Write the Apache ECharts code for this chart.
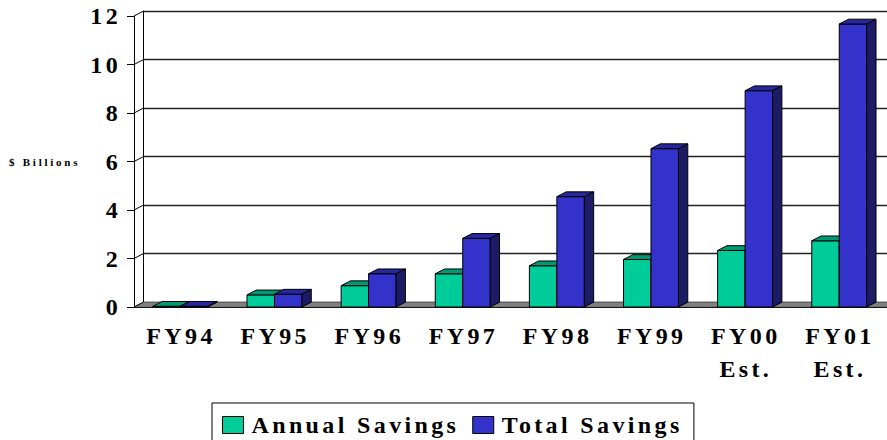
<!DOCTYPE html>
<html>
<head>
<meta charset="utf-8">
<script src="https://cdn.jsdelivr.net/npm/echarts@6/dist/echarts.min.js"></script>
<style>
  html, body { margin: 0; padding: 0; background: #fff; }
  #main { width: 887px; height: 440px; }
  /* the original text is set wide, letter by letter */
  #main text { letter-spacing: 0.14em; font-family: "Liberation Serif", "Times New Roman", serif !important; }
  #main text[style*="11px"] { letter-spacing: 0.25em; }
</style>
</head>
<body>
<div id="main"></div>
<script>
  var categories = ['FY94', 'FY95', 'FY96', 'FY97', 'FY98', 'FY99', 'FY00\nEst.', 'FY01\nEst.'];
  var annualSavings = [0.03, 0.5, 0.88, 1.37, 1.7, 1.96, 2.33, 2.73];
  var totalSavings = [0.03, 0.53, 1.37, 2.83, 4.55, 6.53, 8.92, 11.67];
  var yTicks = [0, 2, 4, 6, 8, 10, 12];

  var FONT = 'Liberation Serif';
  var DX = 9.3, DY = -4.8;   // depth of the 3d look
  var BAR_RATIO = 0.292;

  // 3d bar: front, top and side faces
  function barRender(shift, front, top, side) {
    return function (params, api) {
      var i = api.value(0);
      var c = api.coord([i, api.value(1)]);
      var b = api.coord([i, 0]);
      var w = api.size([1, 0])[0] * BAR_RATIO;
      var x0 = c[0] + shift * w - 0.7, x1 = x0 + w;
      var yt = c[1], yb = b[1];
      var line = { stroke: '#000', lineWidth: 1 };
      return {
        type: 'group',
        children: [
          { type: 'rect', shape: { x: x0, y: yt, width: w, height: yb - yt },
            style: Object.assign({ fill: front }, line) },
          { type: 'polygon', shape: { points: [[x0, yt], [x1, yt], [x1 + DX, yt + DY], [x0 + DX, yt + DY]] },
            style: Object.assign({ fill: top }, line) },
          { type: 'polygon', shape: { points: [[x1, yt], [x1 + DX, yt + DY], [x1 + DX, yb + DY], [x1, yb]] },
            style: Object.assign({ fill: side }, line) }
        ]
      };
    };
  }

  var chart = echarts.init(document.getElementById('main'), null, { renderer: 'svg' });

  var option = {
    backgroundColor: '#fff',
    animation: false,
    title: {
      text: '$ Billions',
      left: 9,
      top: 156,
      padding: 0,
      textStyle: { fontFamily: FONT, fontSize: 11, fontWeight: 'bold', color: '#000' }
    },
    legend: {
      data: ['Annual Savings', 'Total Savings'],
      left: 212,
      top: 403,
      orient: 'horizontal',
      padding: [10, 55, 10, 10],
      itemGap: 60,
      itemWidth: 21,
      itemHeight: 17,
      icon: 'rect',
      borderColor: '#000',
      borderWidth: 1,
      itemStyle: { borderColor: '#000', borderWidth: 1 },
      textStyle: { fontFamily: FONT, fontSize: 24, fontWeight: 'bold', color: '#000', padding: [0, 0, 0, 3] }
    },
    grid: [
      { left: 134, top: 16, width: 753, height: 291, outerBoundsMode: 'none' },
      { left: 143.3, top: 11.2, width: 753, height: 291, outerBoundsMode: 'none' }
    ],
    xAxis: [
      {
        type: 'category', gridIndex: 0, data: categories,
        axisLine: { lineStyle: { color: '#000', width: 1 } },
        axisTick: { length: 6, lineStyle: { color: '#000' } },
        axisLabel: { interval: 0, margin: 12, lineHeight: 33, color: '#000',
          fontFamily: FONT, fontSize: 24, fontWeight: 'bold' },
        splitLine: { show: false }
      },
      { type: 'category', gridIndex: 1, data: categories, show: false }
    ],
    yAxis: [
      {
        type: 'value', gridIndex: 0, min: 0, max: 12, interval: 2,
        axisLine: { show: true, lineStyle: { color: '#000', width: 1 } },
        axisTick: { show: true, length: 7, lineStyle: { color: '#000' } },
        axisLabel: { margin: 13, color: '#000', fontFamily: FONT, fontSize: 24, fontWeight: 'bold' },
        splitLine: { show: false }
      },
      {
        type: 'value', gridIndex: 1, min: 0, max: 12, interval: 2,
        axisLine: { show: true, lineStyle: { color: '#000', width: 1 } },
        axisTick: { show: false },
        axisLabel: { show: false },
        splitLine: { show: true, lineStyle: { color: '#222', width: 1.3 } }
      }
    ],
    series: [
      {
        // floor of the chart
        type: 'custom', xAxisIndex: 0, yAxisIndex: 0, silent: true, z: 1,
        data: [[0, 0]],
        renderItem: function (params, api) {
          var cs = params.coordSys;
          var yb = cs.y + cs.height;
          return {
            type: 'polygon',
            shape: { points: [[cs.x, yb], [cs.x + cs.width, yb], [cs.x + cs.width + DX, yb + DY], [cs.x + DX, yb + DY]] },
            style: { fill: '#808080', stroke: '#555', lineWidth: 0.5 }
          };
        }
      },
      {
        // small joins between front axis ticks and back wall
        type: 'custom', xAxisIndex: 0, yAxisIndex: 0, silent: true, z: 3,
        data: yTicks.map(function (v) { return [0, v]; }),
        renderItem: function (params, api) {
          var cs = params.coordSys;
          var y = api.coord([0, api.value(1)])[1];
          return {
            type: 'line',
            shape: { x1: cs.x, y1: y, x2: cs.x + DX, y2: y + DY },
            style: { stroke: '#000', lineWidth: 1 }
          };
        }
      },
      {
        name: 'Annual Savings', type: 'custom', xAxisIndex: 0, yAxisIndex: 0, z: 4,
        itemStyle: { color: '#00CC99' },
        data: annualSavings.map(function (v, i) { return [i, v]; }),
        renderItem: barRender(-1, '#00CC99', '#009973', '#00664d')
      },
      {
        name: 'Total Savings', type: 'custom', xAxisIndex: 0, yAxisIndex: 0, z: 5,
        itemStyle: { color: '#3333CC' },
        data: totalSavings.map(function (v, i) { return [i, v]; }),
        renderItem: barRender(0, '#3333CC', '#28289e', '#1c1c66')
      }
    ]
  };

  chart.setOption(option);
</script>
</body>
</html>
